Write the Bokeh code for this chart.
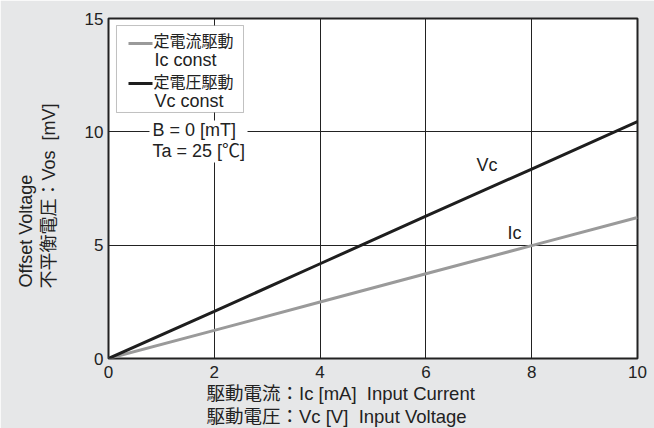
import math
from bokeh.plotting import figure
from bokeh.models import Range1d, FixedTicker, Label, BoxAnnotation, Title
from bokeh.embed import file_html
from bokeh.resources import INLINE

# ---- data ----
input_x = [0, 2, 4, 6, 8, 10]                      # Ic [mA] / Vc [V]
vos_vc = [0, 2.08, 4.18, 6.28, 8.36, 10.45]        # constant-voltage drive
vos_ic = [0, 1.24, 2.49, 3.74, 4.98, 6.22]         # constant-current drive
x_ticks = [0, 2, 4, 6, 8, 10]
y_ticks = [0, 5, 10, 15]

LAT = "'Liberation Sans'"
MIX = "'Liberation Sans', 'Noto Sans CJK JP'"
TXT = "#222222"

p = figure(width=654, height=428, x_range=Range1d(0, 10), y_range=Range1d(0, 15),
           output_backend="svg", toolbar_location=None, title=None,
           min_border_left=108, min_border_right=17, min_border_top=18, min_border_bottom=70)

p.border_fill_color = "#e6e7e8"
p.background_fill_color = "white"
p.outline_line_color = "#222222"
p.outline_line_width = 2

for ax in (p.xaxis, p.yaxis):
    ax.major_tick_in = 0
    ax.major_tick_out = 0
    ax.minor_tick_in = 0
    ax.minor_tick_out = 0
    ax.axis_line_color = None
    ax.major_label_text_font = LAT
    ax.major_label_text_font_size = "17px"
    ax.major_label_text_color = TXT
p.xaxis.ticker = FixedTicker(ticks=x_ticks)
p.yaxis.ticker = FixedTicker(ticks=y_ticks)
p.xaxis.major_label_standoff = 7
p.yaxis.major_label_standoff = 5

# inner y title line (Japanese) as the axis label
p.yaxis.axis_label = "不平衡電圧：Vos\u00a0 [mV]" + "\u00a0" * 3
p.yaxis.axis_label_text_font = MIX
p.yaxis.axis_label_text_font_size = "18px"
p.yaxis.axis_label_text_font_style = "normal"
p.yaxis.axis_label_text_color = TXT
p.yaxis.axis_label_standoff = 23

p.grid.grid_line_color = "#222222"
p.grid.grid_line_width = 1
p.grid.grid_line_alpha = 1

# legend box and condition box (cover the grid)
p.add_layout(BoxAnnotation(left=0.151, right=2.552, bottom=10.853, top=14.69,
                           fill_color="white", fill_alpha=1, line_color="#333333",
                           line_width=1, level="underlay"))
p.add_layout(BoxAnnotation(left=0.775, right=2.628, bottom=8.647, top=10.50,
                           fill_color="white", fill_alpha=1, line_color=None,
                           level="underlay"))

# data lines
p.line(input_x, vos_ic, line_color="#9a9a9a", line_width=3)
p.line(input_x, vos_vc, line_color="#1e1e1e", line_width=3)

# legend samples
p.segment(x0=[0.378], x1=[0.832], y0=[13.897], y1=[13.897], line_color="#9a9a9a", line_width=3)
p.segment(x0=[0.378], x1=[0.832], y0=[12.132], y1=[12.132], line_color="#1e1e1e", line_width=3)


def lab(text, x, y, size, font=MIX):
    p.add_layout(Label(x=x, y=y, text=text, text_font=font, text_font_size=size,
                       text_color=TXT, text_align="left", text_baseline="middle"))


lab("定電流駆動", 0.851, 13.985, "16px")
lab("Ic const", 0.870, 13.19, "18px", LAT)
lab("定電圧駆動", 0.851, 12.176, "16px")
lab("Vc const", 0.870, 11.38, "18px", LAT)

lab("B = 0 [mT]", 0.832, 10.10, "18px", LAT)
lab("Ta = 25 [℃]", 0.832, 9.176, "18px")

lab("Vc", 6.957, 8.515, "18px", LAT)
lab("Ic", 7.543, 5.515, "18px", LAT)


def side_title(text, place, offset, standoff, size="18px", font=MIX):
    t = Title(text=text, align="left", offset=offset, standoff=standoff,
              text_font=font, text_font_size=size, text_font_style="normal",
              text_color=TXT)
    p.add_layout(t, place)


# remaining axis titles (closest to the frame first)
side_title("駆動電流：Ic [mA]\u00a0 Input Current", "below", 98, 0, "18.5px")
side_title("駆動電圧：Vc [V]\u00a0 Input Voltage", "below", 98, 0, "18.5px")
side_title("Offset Voltage", "left", 71, 0, "18px", LAT)

open("out.html", "w").write(file_html(p, INLINE))
